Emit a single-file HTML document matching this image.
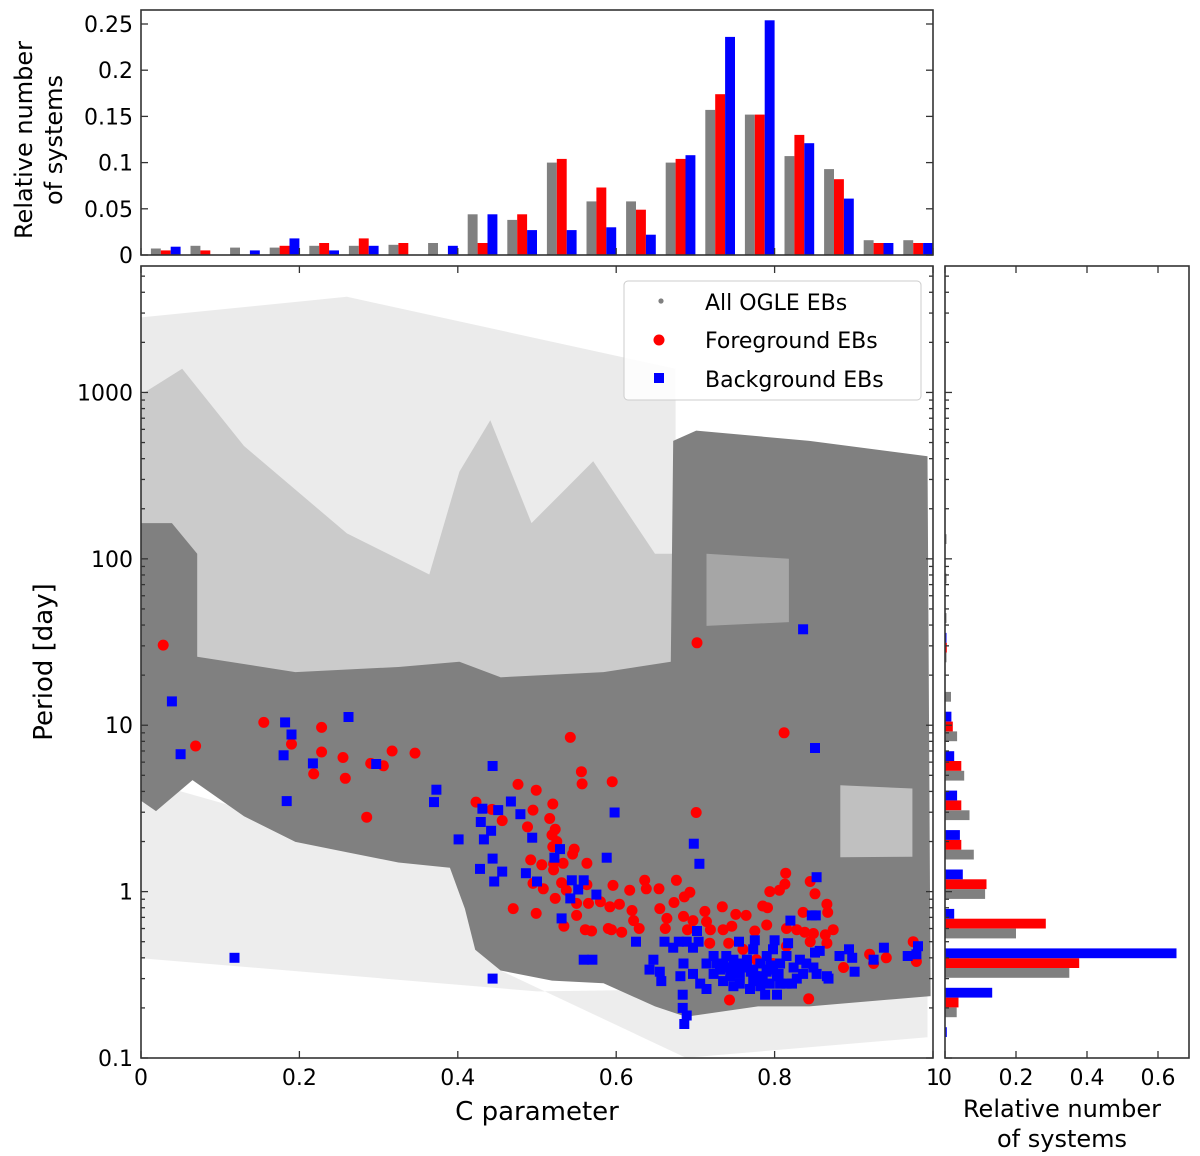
<!DOCTYPE html>
<html><head><meta charset="utf-8">
<style>
html,body{margin:0;padding:0;background:#fff;}
svg{display:block;font-family:"DejaVu Sans","Liberation Sans",sans-serif;}
</style></head>
<body>
<svg id="chart" width="1200" height="1156" viewBox="0 0 1200 1156" xmlns="http://www.w3.org/2000/svg">
<rect width="1200" height="1156" fill="#fff"/>
<g id="main-cloud"></g>
<g id="main-marks"></g>
<g id="top-bars"></g>
<g id="right-bars"></g>
<g id="axes"></g>
<g id="legend">
  <rect x="624" y="281" width="297" height="119" rx="4" fill="#fff" fill-opacity="0.85" stroke="#cccccc" stroke-width="1"/>
  <circle cx="661" cy="301" r="2.6" fill="#808080"/>
  <text x="705" y="310" font-size="22">All OGLE EBs</text>
  <circle cx="659" cy="340" r="5.5" fill="#ff0000"/>
  <text x="705" y="348" font-size="22">Foreground EBs</text>
  <rect x="654" y="373" width="10" height="10" fill="#0000ff"/>
  <text x="705" y="387" font-size="22">Background EBs</text>
</g>
<text x="537" y="1120" font-size="26" text-anchor="middle">C parameter</text>
<text transform="translate(52,662) rotate(-90)" font-size="26" text-anchor="middle">Period [day]</text>
<text transform="translate(32,140) rotate(-90)" font-size="24" text-anchor="middle">Relative number</text>
<text transform="translate(62,140) rotate(-90)" font-size="24" text-anchor="middle">of systems</text>
<text x="1062" y="1117" font-size="24" text-anchor="middle">Relative number</text>
<text x="1062" y="1147" font-size="24" text-anchor="middle">of systems</text>
</svg>
<script>
// ---------- data ----------
const cBinCenters = [0.025,0.075,0.125,0.175,0.225,0.275,0.325,0.375,0.425,0.475,0.525,0.575,0.625,0.675,0.725,0.775,0.825,0.875,0.925,0.975];
const topAll = [0.007,0.010,0.008,0.008,0.010,0.010,0.011,0.013,0.044,0.038,0.100,0.058,0.058,0.100,0.157,0.152,0.107,0.093,0.016,0.016];
const topFg  = [0.005,0.005,0.000,0.010,0.013,0.018,0.013,0.000,0.013,0.044,0.104,0.073,0.049,0.104,0.174,0.152,0.130,0.082,0.013,0.013];
const topBg  = [0.009,0.000,0.005,0.018,0.005,0.010,0.000,0.010,0.044,0.027,0.027,0.030,0.022,0.108,0.236,0.254,0.121,0.061,0.013,0.013];
const topTicks = [0,0.05,0.1,0.15,0.2,0.25];
const topTickLabels = ["0","0.05","0.1","0.15","0.2","0.25"];
const pBinCenters = [-0.933,-0.696,-0.459,-0.222,0.015,0.252,0.489,0.726,0.963,1.2,1.437,1.674,1.911,2.148];
const rightAll = [0.000,0.033,0.350,0.200,0.113,0.081,0.069,0.054,0.034,0.017,0.003,0.003,0.002,0.002];
const rightFg  = [0.000,0.038,0.378,0.284,0.117,0.046,0.046,0.046,0.022,0.000,0.005,0.000,0.000,0.000];
const rightBg  = [0.005,0.133,0.652,0.026,0.050,0.042,0.034,0.026,0.018,0.000,0.002,0.000,0.000,0.000];
const rightTicks = [0,0.2,0.4,0.6];
const rightTickLabels = ["0","0.2","0.4","0.6"];
const xTicks = [0,0.2,0.4,0.6,0.8,1];
const xTickLabels = ["0","0.2","0.4","0.6","0.8","1"];
const yTicks = [0.1,1,10,100,1000];
const yTickLabels = ["0.1","1","10","100","1000"];
// gray OGLE cloud density regions: [C, log10 P]
const cloudSparseTop = [[0,3.451],[0.26,3.575],[0.675,3.142],[0.675,1.288],[0,1.288]];
const cloudSparseBottom = [[0,0.67],[0.39,0.144],[0.454,-0.474],[0.688,-0.999],[0.993,-0.875],[0.993,-0.566],[0.5,-0.6],[0,-0.4]];
const cloudMedium = [[0,2.987],[0.052,3.142],[0.13,2.678],[0.26,2.153],[0.364,1.906],[0.402,2.524],[0.441,2.833],[0.493,2.215],[0.571,2.586],[0.649,2.03],[0.675,2.03],[0.675,1.288],[0,1.288]];
const cloudDense = [[0,2.215],[0.039,2.215],[0.071,2.03],[0.071,1.411],[0.195,1.319],[0.325,1.35],[0.402,1.381],[0.454,1.288],[0.584,1.319],[0.669,1.381],[0.672,2.709],[0.701,2.771],[0.844,2.709],[0.993,2.617],[0.997,-0.628],[0.844,-0.69],[0.779,-0.69],[0.688,-0.752],[0.649,-0.69],[0.584,-0.551],[0.519,-0.535],[0.454,-0.474],[0.422,-0.35],[0.409,-0.103],[0.39,0.144],[0.325,0.175],[0.26,0.237],[0.195,0.299],[0.13,0.453],[0.065,0.67],[0.019,0.484],[0,0.546]];
const cloudHole1 = [[0.714,2.03],[0.818,2.0],[0.818,1.62],[0.714,1.597]];
const cloudHole2 = [[0.883,0.639],[0.974,0.62],[0.974,0.21],[0.883,0.206]];
const fgC = [0.028,0.069,0.155,0.19,0.228,0.228,0.218,0.255,0.258,0.29,0.306,0.317,0.346,0.285,0.702,
0.542,0.812,0.556,0.557,0.595,0.476,0.499,0.701,0.423,0.443,0.456,0.495,0.520,0.516,0.488,0.523,0.519,0.525,0.520,0.547,0.545,0.492,0.506,0.521,0.533,0.563,0.521,0.495,0.508,0.531,0.563,0.596,0.617,0.636,0.638,0.654,0.676,0.693,0.686,0.814,0.813,0.806,0.794,0.845,0.851,0.470,0.499,0.523,0.537,0.550,0.565,0.580,0.592,0.604,0.620,0.655,0.673,0.712,0.734,0.751,0.764,0.785,0.791,0.866,0.867,0.836,0.534,0.550,0.561,0.569,0.590,0.594,0.607,0.622,0.629,0.664,0.662,0.685,0.690,0.697,0.714,0.719,0.735,0.746,0.775,0.790,0.815,0.828,0.838,0.849,0.864,0.874,0.742,0.718,0.845,0.866,0.975,0.920,0.941,0.887,0.979,0.925,0.743,0.843,0.798,0.815,0.777,0.760];
const fgP = [30.3,7.5,10.4,7.7,9.7,6.9,5.1,6.4,4.8,5.9,5.7,7.0,6.8,2.8,31.3,
8.45,9.0,5.26,4.44,4.58,4.41,4.07,2.99,3.45,3.12,2.67,3.09,3.36,2.75,2.45,2.37,2.19,2.0,1.86,1.80,1.68,1.55,1.45,1.47,1.48,1.48,1.35,1.12,1.04,1.13,1.10,1.09,1.02,1.17,1.04,1.04,1.17,0.99,0.93,1.29,1.11,1.02,1.0,1.15,0.97,0.79,0.74,0.91,1.02,0.85,0.85,0.87,0.81,0.84,0.77,0.79,0.86,0.76,0.81,0.73,0.72,0.82,0.80,0.84,0.75,0.75,0.62,0.72,0.59,0.58,0.60,0.59,0.57,0.67,0.60,0.69,0.60,0.71,0.59,0.67,0.66,0.59,0.59,0.62,0.58,0.63,0.60,0.59,0.57,0.56,0.55,0.59,0.49,0.49,0.50,0.49,0.50,0.42,0.40,0.35,0.38,0.37,0.223,0.227,0.37,0.47,0.39,0.45];
const bgC = [0.039,0.05,0.118,0.182,0.19,0.18,0.184,0.217,0.262,0.297,0.373,0.37,0.836,
0.444,0.851,0.598,0.467,0.431,0.451,0.479,0.429,0.442,0.401,0.433,0.494,0.698,0.529,0.522,0.588,0.705,0.444,0.428,0.456,0.486,0.500,0.446,0.544,0.559,0.552,0.575,0.542,0.853,0.531,0.820,0.847,0.852,0.702,0.625,0.661,0.679,0.689,0.704,0.775,0.800,0.817,0.755,0.857,0.851,0.894,0.882,0.898,0.938,0.925,0.968,0.981,0.979,0.901,0.559,0.570,0.444,0.647,0.642,0.655,0.657,0.685,0.681,0.697,0.706,0.714,0.727,0.739,0.748,0.756,0.765,0.773,0.782,0.790,0.798,0.807,0.815,0.824,0.735,0.744,0.756,0.769,0.782,0.794,0.803,0.815,0.828,0.840,0.853,0.866,0.723,0.731,0.748,0.773,0.798,0.788,0.803,0.822,0.684,0.684,0.689,0.686,0.868,0.836,0.849,0.723,0.739,0.756,0.773,0.790,0.807,0.782,0.748,0.832,0.672,0.697,0.714,
0.745,0.760,0.775,0.790,0.805,0.765,0.780,0.795,0.750,0.735,0.770,0.785];
const bgP = [13.9,6.7,0.40,10.4,8.8,6.6,3.5,5.9,11.2,5.85,4.1,3.45,37.7,
5.69,7.3,2.99,3.48,3.15,3.09,2.92,2.62,2.32,2.06,2.06,2.11,1.94,1.80,1.60,1.60,1.47,1.58,1.37,1.32,1.29,1.15,1.15,1.17,1.17,1.03,0.96,0.91,1.22,0.69,0.67,0.72,0.72,0.58,0.50,0.50,0.50,0.50,0.50,0.51,0.51,0.49,0.50,0.44,0.43,0.45,0.41,0.40,0.46,0.39,0.41,0.47,0.42,0.33,0.39,0.39,0.30,0.39,0.34,0.33,0.29,0.37,0.31,0.32,0.28,0.26,0.37,0.41,0.34,0.37,0.39,0.34,0.37,0.41,0.34,0.37,0.41,0.35,0.29,0.31,0.28,0.26,0.31,0.28,0.31,0.28,0.30,0.37,0.32,0.31,0.32,0.34,0.39,0.45,0.45,0.24,0.24,0.28,0.24,0.20,0.18,0.16,0.30,0.32,0.35,0.41,0.35,0.32,0.29,0.34,0.28,0.27,0.27,0.39,0.46,0.46,0.37,
0.33,0.35,0.31,0.33,0.32,0.36,0.30,0.36,0.36,0.36,0.33,0.29];

// ---------- geometry ----------
const M = {x0:141,x1:933,y0:266,y1:1058};
const T = {x0:141,x1:933,y0:10,y1:255};
const R = {x0:945,x1:1189,y0:266,y1:1058};
const NS = "http://www.w3.org/2000/svg";
function xC(c){return M.x0+(M.x1-M.x0)*c;}
function yLog(l){return M.y1-(l+1)*(M.y1-M.y0)/4.76;}
function yP(p){return yLog(Math.log10(p));}
function yTop(v){return T.y1-v*924;}
function xRight(v){return R.x0+v*355;}
function mk(tag,attrs,parent){const e=document.createElementNS(NS,tag);for(const k in attrs)e.setAttribute(k,attrs[k]);parent.appendChild(e);return e;}

const cloud=document.getElementById('main-cloud');
function poly(pts,fill,op,name){
  const d=pts.map(p=>xC(p[0]).toFixed(1)+","+Math.min(M.y1,Math.max(M.y0,yLog(p[1]))).toFixed(1)).join(" ");
  const e=mk('polygon',{points:d,fill:fill,'fill-opacity':op},cloud);
  
  
}
poly(cloudSparseTop,'#808080',0.16,'cloud-sparse-top');
poly(cloudSparseBottom,'#808080',0.14,'cloud-sparse-bottom');
poly(cloudMedium,'#808080',0.3,'cloud-medium');
poly(cloudDense,'#808080',1,'cloud-dense');
poly(cloudHole1,'#ffffff',0.3,'cloud-hole-upper');
poly(cloudHole2,'#ffffff',0.5,'cloud-hole-lower');

const marks=document.getElementById('main-marks');
for(let i=0;i<fgC.length;i++){
  const e=mk('circle',{cx:xC(fgC[i]).toFixed(1),cy:yP(fgP[i]).toFixed(1),r:5.5,fill:'#ff0000'},marks);
  
  
}
for(let i=0;i<bgC.length;i++){
  const e=mk('rect',{x:(xC(bgC[i])-5).toFixed(1),y:(yP(bgP[i])-5).toFixed(1),width:10,height:10,fill:'#0000ff'},marks);
  
  
}

const tb=document.getElementById('top-bars');
const bw=0.0125;
const series=[[topAll,'#808080',-1,'all'],[topFg,'#ff0000',0,'foreground'],[topBg,'#0000ff',1,'background']];
series.forEach(s=>{
  for(let i=0;i<cBinCenters.length;i++){
    const v=s[0][i]; if(v<=0) continue;
    const x=xC(cBinCenters[i]+s[2]*bw);
    const e=mk('rect',{x:x.toFixed(1),y:yTop(v).toFixed(1),width:(bw*792).toFixed(1),height:(T.y1-yTop(v)).toFixed(1),fill:s[1]},tb);
    
    
  }
});
const rb=document.getElementById('right-bars');
const rw=0.059;
const rseries=[[rightAll,'#808080',-1,'all'],[rightFg,'#ff0000',0,'foreground'],[rightBg,'#0000ff',1,'background']];
rseries.forEach(s=>{
  for(let i=0;i<pBinCenters.length;i++){
    const v=s[0][i]; if(v<=0) continue;
    const ytop=yLog(pBinCenters[i]+(s[2]+1)*rw);
    const ybot=yLog(pBinCenters[i]+s[2]*rw);
    const e=mk('rect',{x:R.x0,y:ytop.toFixed(1),width:Math.max(1.5,xRight(v)-R.x0).toFixed(1),height:(ybot-ytop).toFixed(1),fill:s[1]},rb);
    
    
  }
});

const ax=document.getElementById('axes');
function frame(b,name){const e=mk('rect',{x:b.x0,y:b.y0,width:b.x1-b.x0,height:b.y1-b.y0,fill:'none',stroke:'#333',"stroke-width":1.6},ax);}
frame(M,'main-frame');frame(T,'top-frame');frame(R,'right-frame');
function line(x1,y1,x2,y2){mk('line',{x1:x1,y1:y1,x2:x2,y2:y2,stroke:'#333','stroke-width':1.3},ax);}
function label(x,y,t,anchor,name){const e=mk('text',{x:x,y:y,'font-size':22,'text-anchor':anchor},ax);e.textContent=t;}
xTicks.forEach((t,i)=>{const x=xC(t);line(x,M.y1,x,M.y1-7);line(x,M.y0,x,M.y0+7);line(x,T.y1,x,T.y1-7);
  label(x,1085,xTickLabels[i],'middle','x-tick-label');});
yTicks.forEach((t,i)=>{const y=yP(t);line(M.x0,y,M.x0+7,y);line(M.x1,y,M.x1-7,y);line(R.x0,y,R.x0+7,y);
  label(133,y+8,yTickLabels[i],'end','y-tick-label');});
for(let d=-1;d<4;d++)for(let m=2;m<10;m++){const y=yLog(d+Math.log10(m));if(y<M.y0)continue;line(M.x0,y,M.x0+4,y);line(M.x1,y,M.x1-4,y);line(R.x0,y,R.x0+4,y);}
topTicks.forEach((t,i)=>{const y=yTop(t);line(T.x0,y,T.x0+7,y);line(T.x1,y,T.x1-7,y);label(133,y+8,topTickLabels[i],'end','top-y-tick-label');});
rightTicks.forEach((t,i)=>{const x=xRight(t);line(x,R.y1,x,R.y1-7);line(x,R.y0,x,R.y0+7);label(x,1085,rightTickLabels[i],'middle','right-x-tick-label');});
</script>
</body></html>
